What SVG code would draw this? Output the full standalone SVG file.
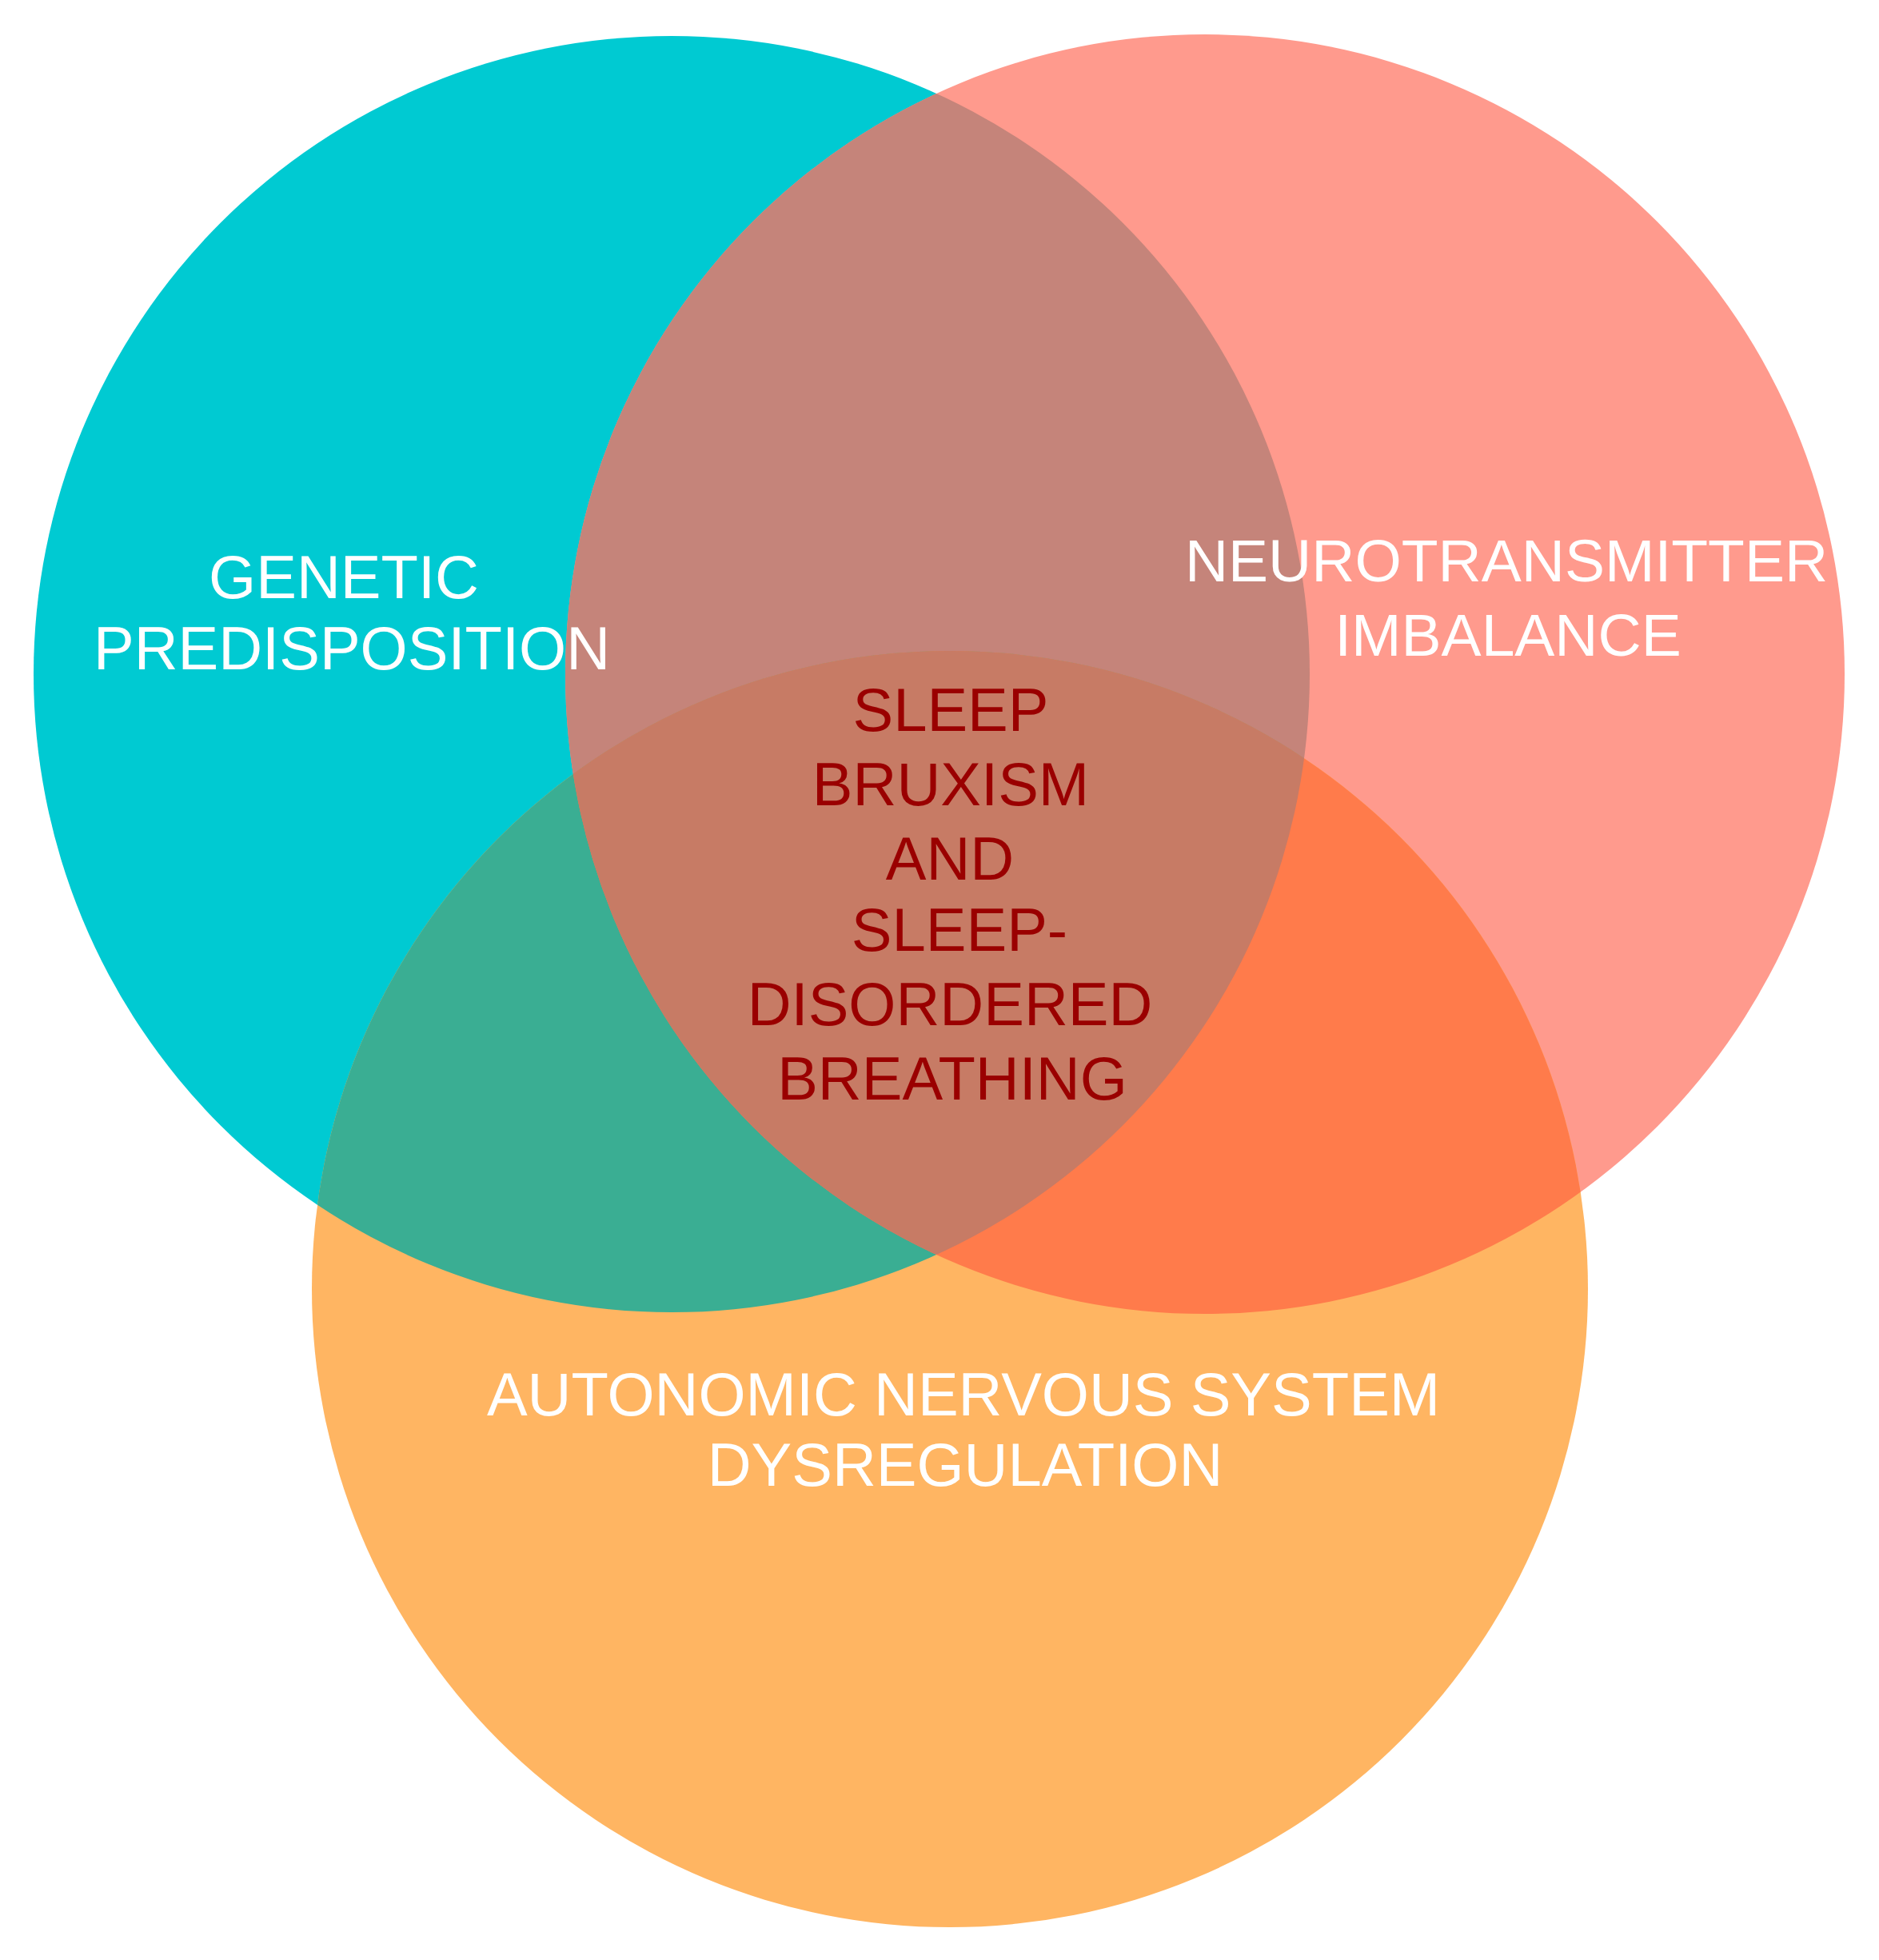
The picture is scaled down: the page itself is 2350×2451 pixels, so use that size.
<svg xmlns="http://www.w3.org/2000/svg" width="2350" height="2451" viewBox="0 0 2350 2451">
<style>
  .lbl { font-family: "Liberation Sans", Arial, sans-serif; font-size: 76px; text-anchor: middle; }
  .white { fill: #ffffff; }
  .core { fill: #9a0000; }
</style>
<defs>
  <clipPath id="clipA"><circle cx="840" cy="843" r="798"/></clipPath>
  <clipPath id="clipB"><circle cx="1507" cy="843" r="800"/></clipPath>
</defs>
<rect width="2350" height="2451" fill="#ffffff"/>
<g id="node-genetic"><circle cx="840" cy="843" r="798" fill="#00CAD2"/></g>
<g id="node-neurotransmitter"><circle cx="1507" cy="843" r="800" fill="#FF9A8D"/></g>
<g id="node-autonomic"><circle cx="1188" cy="1612" r="798" fill="#FFB562"/></g>
<g id="overlaps">
  <g clip-path="url(#clipA)"><circle cx="1507" cy="843" r="800" fill="#C5847A"/></g>
  <g clip-path="url(#clipA)"><circle cx="1188" cy="1612" r="798" fill="#3AAE93"/></g>
  <g clip-path="url(#clipB)"><circle cx="1188" cy="1612" r="798" fill="#FF7B4B"/></g>
  <g clip-path="url(#clipA)"><g clip-path="url(#clipB)"><circle cx="1188" cy="1612" r="798" fill="#C77B65"/></g></g>
</g>
<g id="label-genetic" class="lbl white">
  <text x="430" y="748">GENETIC</text>
  <text x="440" y="837">PREDISPOSITION</text>
</g>
<g id="label-neurotransmitter" class="lbl white" style="font-size:75px">
  <text x="1884" y="727">NEUROTRANSMITTER</text>
  <text x="1886" y="820">IMBALANCE</text>
</g>
<g id="label-autonomic" class="lbl white">
  <text x="1205" y="1770">AUTONOMIC NERVOUS SYSTEM</text>
  <text x="1207" y="1858">DYSREGULATION</text>
</g>
<g id="node-center" class="lbl core">
  <text x="1189" y="914">SLEEP</text>
  <text x="1189" y="1007">BRUXISM</text>
  <text x="1188" y="1100">AND</text>
  <text x="1200" y="1189">SLEEP-</text>
  <text x="1188" y="1282">DISORDERED</text>
  <text x="1191" y="1375">BREATHING</text>
</g>
<g id="connectors"/>
</svg>
